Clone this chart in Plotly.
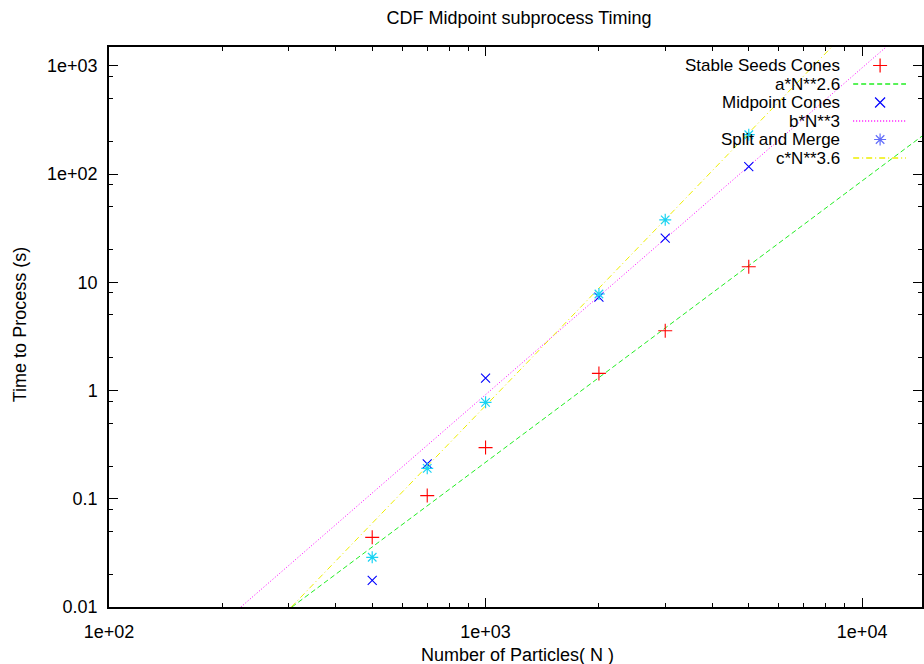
import plotly.graph_objects as go

# ---------------- data ----------------
N = [500, 700, 1000, 2000, 3000, 5000]
stable_seeds = [0.044, 0.107, 0.297, 1.44, 3.57, 13.9]
midpoint = [0.0176, 0.210, 1.30, 7.3, 25.6, 117]
split_merge = [0.0288, 0.191, 0.778, 7.8, 37.8, 231]

# fitted power-law lines (end points read where they cross the frame)
fit_a_N = [306, 14420]
fit_a_t = [0.01, 224]
fit_b_N = [224, 11580]
fit_b_t = [0.01, 1493]
fit_c_N = [305, 8300]
fit_c_t = [0.01, 1493]

x_tickvals = [100, 1000, 10000]
x_ticktext = ["1e+02", "1e+03", "1e+04"]
y_tickvals = [0.01, 0.1, 1, 10, 100, 1000]
y_ticktext = ["0.01", "0.1", "1", "10", "1e+02", "1e+03"]
x_minor = [m * d for d in (100, 1000, 10000) for m in range(2, 10)]
y_minor = [m * d for d in (0.01, 0.1, 1, 10, 100, 1000) for m in (2, 5, 8)]

legend_labels = ["Stable Seeds Cones", "a*N**2.6", "Midpoint Cones",
                 "b*N**3", "Split and Merge", "c*N**3.6"]

# ---------------- styles ----------------
FONT = "Liberation Sans, Arial, Helvetica, sans-serif"
RED, GREEN, BLUE = "#ff0000", "#22ee22", "#0000ff"
MAGENTA, CYAN, YELLOW = "#ff00ff", "#00ffff", "#eeee00"
DASH_A = "5px,3px"
DASH_B = "1px,2px"
DASH_C = "6px,3px,1px,3px"

W, H = 924, 664
L, R, T, B = 109, 0, 47, 57

fig = go.Figure()

fig.add_trace(go.Scatter(x=fit_a_N, y=fit_a_t, mode="lines",
                         line=dict(color=GREEN, width=1, dash=DASH_A)))
fig.add_trace(go.Scatter(x=fit_b_N, y=fit_b_t, mode="lines",
                         line=dict(color=MAGENTA, width=1, dash=DASH_B)))
fig.add_trace(go.Scatter(x=fit_c_N, y=fit_c_t, mode="lines",
                         line=dict(color=YELLOW, width=1, dash=DASH_C)))

fig.add_trace(go.Scatter(x=N, y=stable_seeds, mode="markers",
                         marker=dict(symbol="cross-thin", size=10,
                                     line=dict(color=RED, width=1.1))))
fig.add_trace(go.Scatter(x=N, y=midpoint, mode="markers",
                         marker=dict(symbol="x-thin", size=9,
                                     line=dict(color=BLUE, width=1.1))))
fig.add_trace(go.Scatter(x=N, y=split_merge, mode="markers",
                         marker=dict(symbol="asterisk-open", size=10,
                                     line=dict(color=CYAN, width=1.2))))

# ---------------- legend (gnuplot style: text right, sample on the right) ----
leg_rows = [65.5, 84, 102.5, 121, 139.5, 158]
leg_text_x = 843
leg_line_x0, leg_line_x1, leg_mark_x = 855, 908, 882
leg_styles = [("marker", "cross-thin", RED), ("line", DASH_A, GREEN),
              ("marker", "x-thin", BLUE), ("line", DASH_B, MAGENTA),
              ("marker", "asterisk-open", CYAN), ("line", DASH_C, YELLOW)]

annotations = []
for lab, yy, st in zip(legend_labels, leg_rows, leg_styles):
    annotations.append(dict(x=leg_text_x, y=yy, xref="x2", yref="y2", text=lab,
                            showarrow=False, xanchor="right", yanchor="middle",
                            borderpad=0,
                            font=dict(family=FONT, size=17, color="black")))
    if st[0] == "line":
        fig.add_trace(go.Scatter(x=[leg_line_x0, leg_line_x1], y=[yy, yy],
                                 xaxis="x2", yaxis="y2", mode="lines",
                                 line=dict(color=st[2], width=1.4, dash=st[1])))
    else:
        fig.add_trace(go.Scatter(x=[leg_mark_x], y=[yy], xaxis="x2", yaxis="y2",
                                 mode="markers",
                                 marker=dict(symbol=st[1], size=10,
                                             line=dict(color=st[2], width=1.2))))

annotations.append(dict(x=(519 - L) / (W - L - R), y=(H - B - 655) / (H - T - B),
                        xref="paper", yref="paper", text="Number of Particles( N )",
                        showarrow=False, xanchor="center", yanchor="middle",
                        font=dict(family=FONT, size=18, color="black")))
annotations.append(dict(x=(20 - L) / (W - L - R), y=(H - B - 325) / (H - T - B),
                        xref="paper", yref="paper", text="Time to Process (s)",
                        textangle=-90, showarrow=False, xanchor="center",
                        yanchor="middle",
                        font=dict(family=FONT, size=18, color="black")))

axis_common = dict(showline=True, linecolor="black", linewidth=1.5,
                   mirror="ticks", ticks="inside", ticklen=9, tickwidth=1.2,
                   tickcolor="black", showgrid=False, zeroline=False,
                   tickfont=dict(family=FONT, size=18, color="black"))

fig.update_layout(
    width=W, height=H,
    margin=dict(l=L, r=R, t=T, b=B, pad=0),
    paper_bgcolor="white", plot_bgcolor="white",
    showlegend=False,
    title=dict(text="CDF Midpoint subprocess Timing", x=519 / W, xref="container",
               y=1 - 18 / H, yref="container", xanchor="center", yanchor="middle",
               font=dict(family=FONT, size=18, color="black")),
    xaxis=dict(type="log", range=[2, 4.159], tickvals=x_tickvals,
               ticktext=x_ticktext, ticklabelstandoff=8,
               minor=dict(tickvals=x_minor, ticks="inside", ticklen=4.5,
                          tickwidth=1, tickcolor="black"),
               **axis_common),
    yaxis=dict(type="log", range=[-2, 3.174], tickvals=y_tickvals,
               ticktext=y_ticktext, ticklabelstandoff=6,
               minor=dict(tickvals=y_minor, ticks="inside", ticklen=4.5,
                          tickwidth=1, tickcolor="black"),
               **axis_common),
    xaxis2=dict(overlaying="x", anchor="y2", range=[L, W - R], visible=False),
    yaxis2=dict(overlaying="y", anchor="x2", range=[H - B, T], visible=False),
    annotations=annotations,
)

fig.write_html("out.html")
